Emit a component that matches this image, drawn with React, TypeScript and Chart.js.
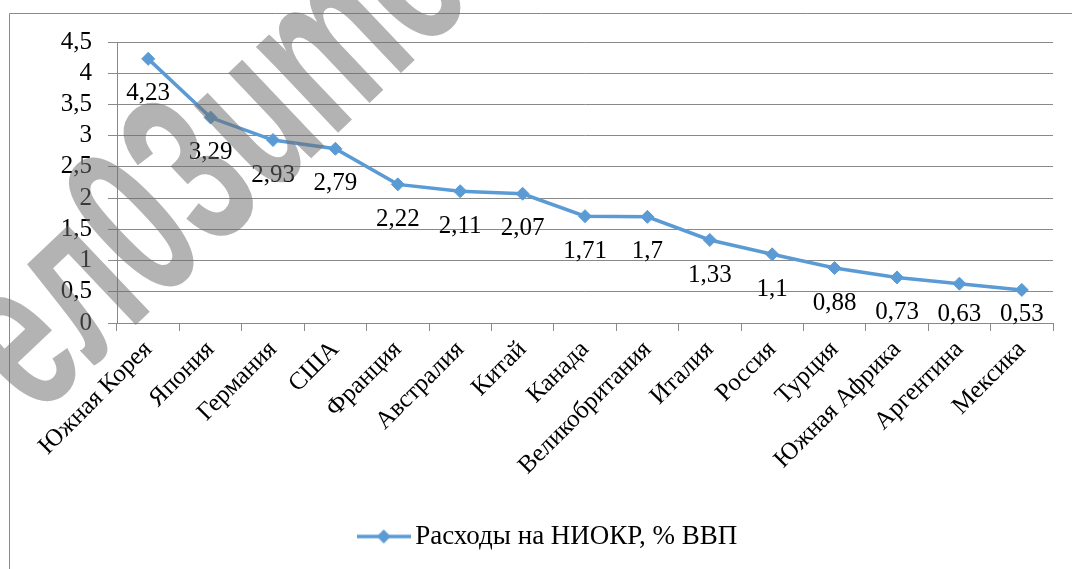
import React, { useEffect, useRef } from "react";
import { Chart, registerables } from "chart.js";

Chart.register(...registerables);

const categories = [
  "Южная Корея",
  "Япония",
  "Германия",
  "США",
  "Франция",
  "Австралия",
  "Китай",
  "Канада",
  "Великобритания",
  "Италия",
  "Россия",
  "Турция",
  "Южная Африка",
  "Аргентина",
  "Мексика",
];
const values = [4.23, 3.29, 2.93, 2.79, 2.22, 2.11, 2.07, 1.71, 1.7, 1.33, 1.1, 0.88, 0.73, 0.63, 0.53];
const seriesName = "Расходы на НИОКР, % ВВП";
const yTicks = [0, 0.5, 1, 1.5, 2, 2.5, 3, 3.5, 4, 4.5];
const watermarkText = "ел03ume";

const BLUE = "#5B9BD5";
const GRID = "#898989";
const SERIF = "'Liberation Serif', 'Times New Roman', serif";

const fmt = (v: number) => String(v).replace(".", ",");

function makeLegendMarker(): HTMLCanvasElement {
  const c = document.createElement("canvas");
  c.width = 54;
  c.height = 16;
  const g = c.getContext("2d")!;
  g.strokeStyle = BLUE;
  g.lineWidth = 3.5;
  g.beginPath();
  g.moveTo(0, 8);
  g.lineTo(54, 8);
  g.stroke();
  g.fillStyle = BLUE;
  g.beginPath();
  g.moveTo(27, 1);
  g.lineTo(34, 8);
  g.lineTo(27, 15);
  g.lineTo(20, 8);
  g.closePath();
  g.fill();
  return c;
}

const framePlugin = {
  id: "frame",
  beforeDraw(chart: any) {
    const ctx = chart.ctx;
    ctx.save();
    ctx.fillStyle = "#ffffff";
    ctx.fillRect(0, 0, chart.width, chart.height);
    ctx.strokeStyle = "#8a8a8a";
    ctx.lineWidth = 1;
    ctx.beginPath();
    ctx.moveTo(9.5, chart.height + 2);
    ctx.lineTo(9.5, 13.5);
    ctx.lineTo(chart.width + 2, 13.5);
    ctx.stroke();
    ctx.restore();
  },
};

const dataLabelPlugin = {
  id: "dataLabels",
  afterDatasetsDraw(chart: any) {
    const ctx = chart.ctx;
    const meta = chart.getDatasetMeta(0);
    const bottom = chart.chartArea.bottom;
    ctx.save();
    ctx.font = `25px ${SERIF}`;
    ctx.fillStyle = "#000000";
    ctx.textAlign = "center";
    ctx.textBaseline = "middle";
    meta.data.forEach((pt: any, i: number) => {
      const y = Math.min(pt.y + 35, bottom - 9);
      ctx.fillText(fmt(values[i]), pt.x, y);
    });
    ctx.restore();
  },
};

const watermarkPlugin = {
  id: "watermark",
  afterDraw(chart: any) {
    const ctx = chart.ctx;
    ctx.save();
    ctx.translate(214, 165);
    ctx.rotate((-43.5 * Math.PI) / 180);
    ctx.scale(0.93, 1.5);
    ctx.font = "bold 150px 'Liberation Sans', Arial, sans-serif";
    ctx.fillStyle = "rgba(110,110,110,0.52)";
    ctx.textAlign = "center";
    ctx.textBaseline = "middle";
    ctx.fillText(watermarkText, 0, 0);
    ctx.restore();
  },
};

export default function App() {
  const ref = useRef<HTMLCanvasElement | null>(null);

  useEffect(() => {
    if (!ref.current) return;
    const marker = makeLegendMarker();
    const chart = new Chart(ref.current, {
      type: "line",
      data: {
        labels: categories,
        datasets: [
          {
            label: seriesName,
            data: values,
            borderColor: BLUE,
            backgroundColor: BLUE,
            borderWidth: 3.5,
            tension: 0,
            pointStyle: "rectRot",
            pointRadius: 6.5,
            pointBackgroundColor: BLUE,
            pointBorderColor: BLUE,
            pointBorderWidth: 1,
          },
        ],
      },
      options: {
        responsive: false,
        animation: false,
        layout: { padding: { left: 50, right: 19, top: 42, bottom: 9 } },
        plugins: {
          tooltip: { enabled: false },
          legend: {
            position: "bottom",
            labels: {
              usePointStyle: true,
              pointStyle: marker as any,
              pointStyleWidth: 36,
              color: "#000000",
              font: { family: SERIF, size: 27 },
              padding: 10,
              generateLabels: () => [
                {
                  text: seriesName,
                  pointStyle: marker as any,
                  fillStyle: BLUE,
                  strokeStyle: BLUE,
                  lineWidth: 0,
                  hidden: false,
                  datasetIndex: 0,
                } as any,
              ],
            },
          },
        },
        scales: {
          x: {
            offset: true,
            grid: {
              offset: true,
              drawOnChartArea: false,
              drawTicks: true,
              tickLength: 8,
              color: GRID,
            },
            border: { display: true, color: GRID },
            ticks: {
              autoSkip: false,
              minRotation: 45,
              maxRotation: 45,
              padding: 4,
              color: "#000000",
              font: { family: SERIF, size: 25 },
            },
            afterFit: (scale: any) => {
              scale.height = 190;
            },
          },
          y: {
            min: yTicks[0],
            max: yTicks[yTicks.length - 1],
            grid: { color: GRID, drawTicks: true, tickLength: 9 },
            border: { display: true, color: GRID },
            ticks: {
              autoSkip: false,
              padding: 16,
              color: "#000000",
              font: { family: SERIF, size: 25 },
              callback: (v: any) => fmt(Number(v)),
            },
            afterBuildTicks: (scale: any) => {
              scale.ticks = yTicks.map((v) => ({ value: v }));
            },
            afterFit: (scale: any) => {
              scale.width = 67;
            },
          },
        },
      },
      plugins: [framePlugin, dataLabelPlugin, watermarkPlugin],
    });
    return () => chart.destroy();
  }, []);

  return (
    <div style={{ position: "fixed", left: 0, top: 0, width: 1072, height: 569, background: "#fff" }}>
      <canvas ref={ref} width={1072} height={569} style={{ display: "block" }} />
    </div>
  );
}
